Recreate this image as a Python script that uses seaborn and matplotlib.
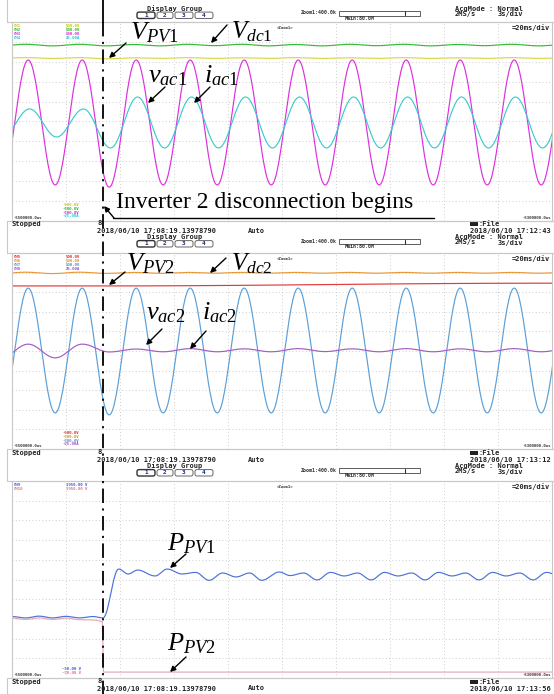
import numpy as np
import pandas as pd
import matplotlib
matplotlib.use("Agg")
import matplotlib.pyplot as plt
import seaborn as sns
from matplotlib.patches import Rectangle, FancyBboxPatch

sns.set_style("white")
plt.rcParams["mathtext.fontset"] = "custom"
plt.rcParams["mathtext.rm"] = "Liberation Serif"
plt.rcParams["mathtext.it"] = "Liberation Serif:italic"
plt.rcParams["font.family"] = ["DejaVu Sans"]

# ---------------- data (time in ms, values in screen divisions) ----------------
EVENT_MS = 33.7
T_END = 200.0

# Panel 1 : inverter 1
vdc1_t = [-5, 5, 15, 25, 35, 45, 55, 65, 75, 85, 95, 105, 115, 125, 135, 145, 155, 165, 175, 185, 195, 205]
vdc1_v = [3.80, 3.88, 3.80, 3.88, 3.80, 3.87, 3.80, 3.88, 3.81, 3.88, 3.80, 3.87, 3.80, 3.88, 3.81, 3.88, 3.80, 3.87, 3.81, 3.88, 3.80, 3.87]
vpv1_t = [-5, 5, 15, 25, 35, 45, 55, 65, 75, 85, 95, 105, 115, 125, 135, 145, 155, 165, 175, 185, 195, 205]
vpv1_v = [3.17, 3.21, 3.17, 3.21, 3.15, 3.20, 3.17, 3.21, 3.17, 3.20, 3.17, 3.21, 3.17, 3.20, 3.17, 3.21, 3.17, 3.20, 3.17, 3.21, 3.17, 3.20]
vac1_t = [-4, 6, 16, 26, 36, 46, 56, 66, 76, 86, 96, 106, 116, 126, 136, 146, 156, 166, 176, 186, 196, 206]
vac1_v = [-3.19, 3.09, -3.19, 3.09, -3.30, 3.09, -3.19, 3.09, -3.19, 3.09, -3.19, 3.09, -3.19, 3.09, -3.19, 3.09, -3.19, 3.09, -3.19, 3.09, -3.19, 3.09]
iac1_t = [-3.5, 6.5, 16.5, 26.5, 36.5, 46.5, 56.5, 66.5, 76.5, 86.5, 96.5, 106.5, 116.5, 126.5, 136.5, 146.5, 156.5, 166.5, 176.5, 186.5, 196.5, 206.5]
iac1_v = [-0.78, 0.63, -0.78, 0.63, -1.33, 1.23, -1.33, 1.23, -1.33, 1.23, -1.33, 1.23, -1.33, 1.23, -1.33, 1.23, -1.33, 1.23, -1.33, 1.23, -1.33, 1.23]

# Panel 2 : inverter 2
vdc2_t = [-5, 5, 15, 25, 35, 45, 55, 65, 75, 85, 95, 105, 115, 125, 135, 145, 155, 165, 175, 185, 195, 205]
vdc2_v = [3.95, 4.02, 3.95, 4.02, 3.96, 4.01, 3.96, 4.01, 3.97, 4.01, 3.97, 4.01, 3.97, 4.01, 3.97, 4.01, 3.97, 4.01, 3.97, 4.01, 3.97, 4.01]
vpv2_t = [0, EVENT_MS, 200]
vpv2_v = [3.32, 3.32, 3.46]
vac2_t = [-4, 6, 16, 26, 36, 46, 56, 66, 76, 86, 96, 106, 116, 126, 136, 146, 156, 166, 176, 186, 196, 206]
vac2_v = [-3.16, 3.21, -3.16, 3.21, -3.26, 3.21, -3.16, 3.21, -3.16, 3.21, -3.16, 3.21, -3.16, 3.21, -3.16, 3.21, -3.16, 3.21, -3.16, 3.21, -3.16, 3.21]
iac2_t = [-4, 6, 16, 26, 36, 46, 56, 66, 76, 86, 96, 106, 116, 126, 136, 146, 156, 166, 176, 186, 196, 206]
iac2_v = [-0.35, 0.35, -0.35, 0.35, -0.05, 0.10, -0.04, 0.12, -0.04, 0.11, -0.04, 0.12, -0.03, 0.11, -0.04, 0.12, -0.04, 0.11, -0.04, 0.12, -0.04, 0.11]

# Panel 3 : PV powers
ppv1_t = [0, 5, 10, 15, 20, 25, 30, EVENT_MS, 39.5, 43, 46.5, 53, 57.5, 63, 68, 73, 78, 83, 88, 92.5, 99, 103,
          108, 113, 118, 123, 128, 133, 138, 143, 148, 153, 158, 163, 168, 173, 178, 183, 188, 193, 198, 203]
ppv1_v = [-1.88, -1.95, -1.86, -1.95, -1.87, -1.95, -1.88, -1.95, 0.53, 0.28, 0.48, 0.18, 0.53, 0.28, 0.36, -0.04,
          0.33, 0.13, 0.33, -0.04, 0.38, 0.20, 0.33, -0.02, 0.36, 0.18, 0.33, -0.02, 0.36, 0.18, 0.33, -0.02,
          0.36, 0.18, 0.33, -0.02, 0.36, 0.18, 0.33, -0.02, 0.36, 0.18]
ppv2_t = [0, 5, 10, 15, 20, 25, 30, 33.4, 33.9, 200]
ppv2_v = [-1.96, -2.03, -1.95, -2.03, -1.96, -2.04, -2.05, -2.12, -4.70, -4.70]

# ---------------- figure ----------------
W, H = 554, 694
fig = plt.figure(figsize=(W / 100, H / 100), dpi=100)
fig.patch.set_facecolor("white")


def wave(ts, vs, n=30):
    out_t, out_v = [], []
    for i in range(len(ts) - 1):
        s = np.linspace(0, 1, n, endpoint=False)
        out_t.append(ts[i] + (ts[i + 1] - ts[i]) * s)
        out_v.append(vs[i] + (vs[i + 1] - vs[i]) * (1 - np.cos(np.pi * s)) / 2)
    out_t.append([ts[-1]])
    out_v.append([vs[-1]])
    return np.concatenate(out_t), np.concatenate(out_v)


def panel(top, bottom, series, palette):
    ax = fig.add_axes([12 / W, 1 - bottom / H, 540 / W, (bottom - top) / H])
    frames = []
    for name, (ts, vs) in series.items():
        t, v = wave(ts, vs)
        frames.append(pd.DataFrame({"t": t, "v": v, "s": name}))
    df = pd.concat(frames, ignore_index=True)
    sns.lineplot(data=df, x="t", y="v", hue="s", palette=palette, estimator=None,
                 sort=False, legend=False, lw=0.85, ax=ax)
    ax.set_xlim(0, T_END)
    ax.set_ylim(-5, 5)
    ax.set_xticks(np.linspace(0, T_END, 11))
    ax.set_yticks(np.arange(-5, 6))
    ax.grid(True, ls=(0, (1, 3)), color="#bdbdbd", lw=0.6)
    ax.tick_params(length=0, labelbottom=False, labelleft=False)
    ax.set_xlabel("")
    ax.set_ylabel("")
    for sp in ax.spines.values():
        sp.set_color("#c8c8c8")
        sp.set_linewidth(0.8)
    return ax


panel(22, 221,
      {"Vdc1": (vdc1_t, vdc1_v), "VPV1": (vpv1_t, vpv1_v), "vac1": (vac1_t, vac1_v), "iac1": (iac1_t, iac1_v)},
      {"Vdc1": "#33bb33", "VPV1": "#d8d84a", "vac1": "#dd30dd", "iac1": "#3ccccc"})
panel(253, 449,
      {"Vdc2": (vdc2_t, vdc2_v), "VPV2": (vpv2_t, vpv2_v), "vac2": (vac2_t, vac2_v), "iac2": (iac2_t, iac2_v)},
      {"Vdc2": "#e89a3a", "VPV2": "#e03a3a", "vac2": "#5a9fd8", "iac2": "#a35cc0"})
panel(481, 678,
      {"PPV2": (ppv2_t, ppv2_v), "PPV1": (ppv1_t, ppv1_v)},
      {"PPV1": "#4a72d8", "PPV2": "#e8a8b8"})

# ---------------- overlay (pixel coordinates) ----------------
ov = fig.add_axes([0, 0, 1, 1])
ov.set_xlim(0, W)
ov.set_ylim(H, 0)
ov.axis("off")
ov.patch.set_alpha(0)
ov.set_zorder(10)

mono = dict(family="DejaVu Sans Mono", fontweight="bold", fontsize=5.0, color="#222222")
tiny = dict(family="DejaVu Sans Mono", fontweight="bold", fontsize=2.9)

# separators
for y in [22, 221, 253, 449, 481, 678]:
    ov.plot([7, W], [y, y], color="#c8c8c8", lw=0.8)
for y0, y1 in [(0, 22), (221, 253), (449, 481), (678, 694)]:
    ov.plot([7, 7], [y0, y1], color="#c8c8c8", lw=0.8)


def header(yd):
    ov.text(175, yd, "Display Group", ha="center", va="center", **mono)
    boxes = [(137, 155), (157, 173), (175, 193), (195, 213)]
    for i, (x0, x1) in enumerate(boxes):
        ov.add_patch(FancyBboxPatch((x0, yd + 3.6), x1 - x0, 6.4,
                                    boxstyle="round,pad=0,rounding_size=2",
                                    fc="white", ec="#333333" if i == 0 else "#666666",
                                    lw=1.0 if i == 0 else 0.7))
        ov.text((x0 + x1) / 2, yd + 6.8, str(i + 1), ha="center", va="center",
                family="DejaVu Sans Mono", fontweight="bold", fontsize=4.4, color="#1c2c80")
    ov.text(337, yd + 4.3, "Zoom1:400.0k", ha="right", va="center",
            family="DejaVu Sans Mono", fontweight="bold", fontsize=3.6, color="#333333")
    ov.add_patch(Rectangle((339, yd + 2.2), 81, 5.2, fc="white", ec="#444444", lw=0.6))
    ov.plot([405, 405], [yd + 2.8, yd + 6.8], color="#333333", lw=0.8)
    ov.text(345, yd + 9.8, "Main:80.0M", ha="left", va="center",
            family="DejaVu Sans Mono", fontweight="bold", fontsize=3.6, color="#333333")
    ov.text(455, yd + 0.0, "AcqMode : Normal", ha="left", va="center", **mono)
    ov.text(455, yd + 5.4, "2MS/s", ha="left", va="center", **mono)
    ov.text(498, yd + 5.4, "3s/div", ha="left", va="center", **mono)


def status(ys, right_date):
    ov.text(12, ys, "Stopped", ha="left", va="center", **mono)
    ov.text(97, ys - 1.0, "8", ha="left", va="center", **mono)
    ov.text(97, ys + 6.5, "2018/06/10 17:08:19.13978790", ha="left", va="center", **mono)
    ov.text(248, ys + 6.5, "Auto", ha="left", va="center", **mono)
    ov.add_patch(Rectangle((470, ys - 2.0), 8, 3.6, fc="#222222", ec="none"))
    ov.text(478, ys - 0.5, ":File", ha="left", va="center", **mono)
    ov.text(551, ys + 6.5, right_date, ha="right", va="center", **mono)


def inplot(top, bottom, top_labels, bot_labels):
    ov.text(277, top + 5.5, "<Zoom1>", ha="left", va="center", color="#333333", **tiny)
    ov.text(550, top + 5.5, "=20ms/div", ha="right", va="center", **mono)
    for i, (name, val, col) in enumerate(top_labels):
        ov.text(14, top + 3.8 + 3.9 * i, name, ha="left", va="center", color=col, **tiny)
        ov.text(66, top + 3.8 + 3.9 * i, val, ha="left", va="center", color=col, **tiny)
    n = len(bot_labels)
    for i, (val, col) in enumerate(bot_labels):
        ov.text(62, bottom - 4.6 - 3.9 * (n - 1 - i), val,
                ha="left", va="center", color=col, **tiny)
    ov.text(13, bottom - 2.6, "-5500000.0us", ha="left", va="center", color="#333333", **tiny)
    ov.text(551, bottom - 3.0, "-5300000.0us", ha="right", va="center", color="#333333", **tiny)


header(8.5)
inplot(22, 221,
       [("CH1", "500.0V", "#c8c800"), ("CH2", "500.0V", "#22bb22"),
        ("CH3", "500.0V", "#dd22dd"), ("CH4", "25.00A", "#22cccc")],
       [("-500.0V", "#c8c800"), ("-500.0V", "#22bb22"), ("-500.0V", "#dd22dd"), ("-25.00A", "#22cccc")])
status(224, "2018/06/10 17:12:43")

header(237)
inplot(253, 449,
       [("CH5", "500.0V", "#e02a2a"), ("CH6", "500.0V", "#e8901a"),
        ("CH7", "500.0V", "#4a90d8"), ("CH8", "25.00A", "#a050c0")],
       [("-500.0V", "#e02a2a"), ("-500.0V", "#e8901a"), ("-500.0V", "#4a90d8"), ("-25.00A", "#a050c0")])
status(453, "2018/06/10 17:13:12")

header(466)
inplot(481, 678,
       [("CH9", "1950.00 V", "#3a5ad8"), ("CH10", "1950.00 V", "#e07090")],
       [("-50.00 V", "#3a5ad8"), ("-50.00 V", "#e07090")])
status(682, "2018/06/10 17:13:56")

# event marker
ov.plot([103, 103], [0, 22], color="black", lw=1.3)
ov.plot([103, 103], [22, H], color="black", lw=1.3, ls=(0, (8, 3, 1.2, 3)))

# annotations
serif = dict(family="Liberation Serif", color="black")
arrow = dict(arrowstyle="-|>", color="black", lw=1.0, mutation_scale=8, shrinkA=0, shrinkB=0)


def label(x, y, s, tail, head, size=19):
    ov.text(x, y, s, ha="left", va="baseline", fontsize=size, **serif)
    ov.annotate("", xy=head, xytext=tail, arrowprops=arrow)


label(130, 39, r"$V_{PV\mathrm{1}}$", (126, 43), (109, 58))
label(231, 38, r"$V_{dc\mathrm{1}}$", (227, 25), (211, 43), size=18)
label(148, 82, r"$v_{ac\mathrm{1}}$", (165, 87), (148, 103))
label(204, 82, r"$i_{ac\mathrm{1}}$", (210, 87), (194, 103))

ov.text(116, 208, "Inverter 2 disconnection begins", ha="left", va="baseline", fontsize=17, **serif)
ov.plot([113, 434], [218, 218], color="black", lw=1.0)
ov.annotate("", xy=(104, 206), xytext=(114, 218), arrowprops=arrow)

label(126, 270, r"$V_{PV\mathrm{2}}$", (125, 272), (109, 285))
label(231, 270, r"$V_{dc\mathrm{2}}$", (226, 258), (210, 273), size=18)
label(146, 319, r"$v_{ac\mathrm{2}}$", (162, 329), (146, 345))
label(202, 319, r"$i_{ac\mathrm{2}}$", (206, 331), (190, 349))

label(167, 550, r"$P_{PV\mathrm{1}}$", (186, 554), (170, 568))
label(167, 650, r"$P_{PV\mathrm{2}}$", (186, 657), (170, 672))

fig.savefig("out.png", dpi=100, facecolor="white")
